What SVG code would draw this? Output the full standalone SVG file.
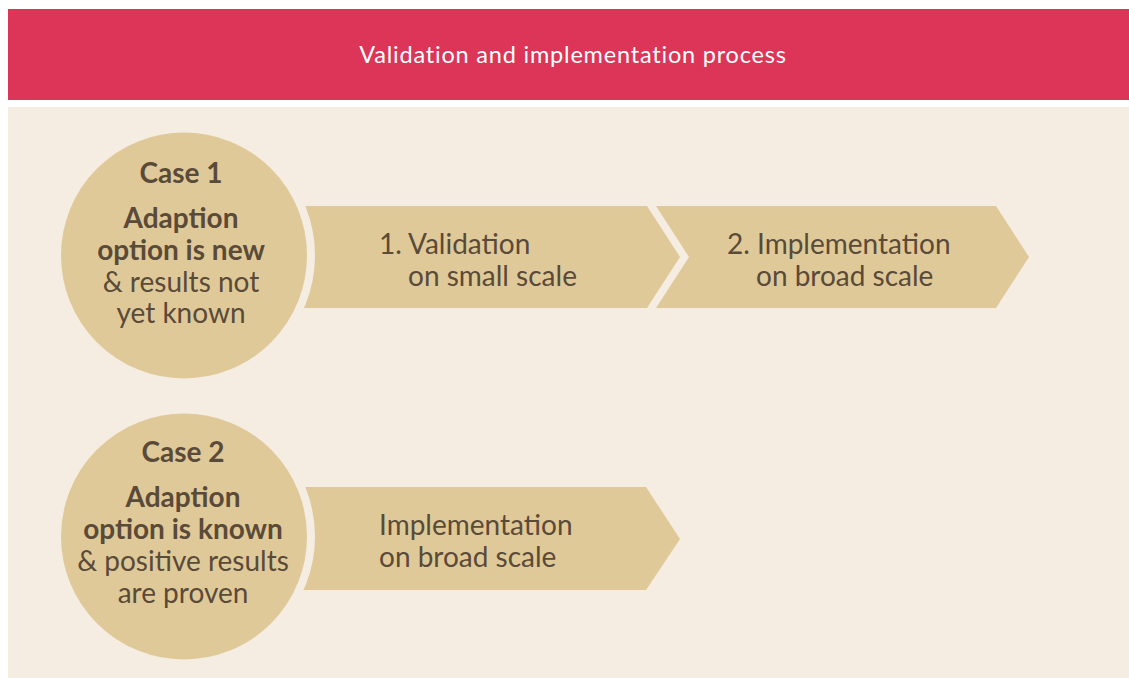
<svg xmlns="http://www.w3.org/2000/svg" width="1129" height="678" viewBox="0 0 1129 678">
<style>
.t{font-family:Lato,"Open Sans",sans-serif;font-size:28px;fill:#5a4a38}
.b{font-weight:bold}
.c{text-anchor:middle}
.tan{fill:#e0c998}
</style>
<rect x="0" y="0" width="1129" height="678" fill="#ffffff"/>
<rect id="header" x="8" y="9" width="1121" height="91" fill="#dc3558"/>
<text x="573" y="63" font-family="Lato,'Open Sans',sans-serif" font-size="23.5" letter-spacing="0.8" fill="#ffffff" text-anchor="middle">Validation and implementation process</text>
<rect x="8" y="107" width="1121" height="571" fill="#f5ede1"/>
<g id="connectors">
<g id="arrow1"><polygon class="tan" points="295,206 647,206 680,257 647,308 295,308"/>
<text class="t" x="379" y="254">1. Validation</text><text class="t" x="408" y="286">on small scale</text></g>
<g id="arrow2"><polygon class="tan" points="656,206 996,206 1029,257 996,308 656,308 689,257"/>
<text class="t" x="727" y="254">2. Implementation</text><text class="t" x="756" y="286">on broad scale</text></g>
<g id="arrow3"><polygon class="tan" points="295,487 646,487 680,539 646,590 295,590"/>
<text class="t" x="379" y="535">Implementation</text><text class="t" x="379" y="567">on broad scale</text></g>
</g>
<g id="case1">
<circle cx="184" cy="255.5" r="127" fill="#e0c998" stroke="#f5ede1" stroke-width="8"/>
<text class="t b c" x="181" y="183">Case 1</text>
<text class="t b c" x="181" y="228">Adaption</text>
<text class="t b c" x="181" y="260">option is new</text>
<text class="t c" x="181" y="292">&amp; results not</text>
<text class="t c" x="181" y="323">yet known</text>
</g>
<g id="case2">
<circle cx="184" cy="536.5" r="127" fill="#e0c998" stroke="#f5ede1" stroke-width="8"/>
<text class="t b c" x="183" y="462">Case 2</text>
<text class="t b c" x="183" y="507">Adaption</text>
<text class="t b c" x="183" y="539">option is known</text>
<text class="t c" x="183" y="571">&amp; positive results</text>
<text class="t c" x="183" y="603">are proven</text>
</g>
</svg>
